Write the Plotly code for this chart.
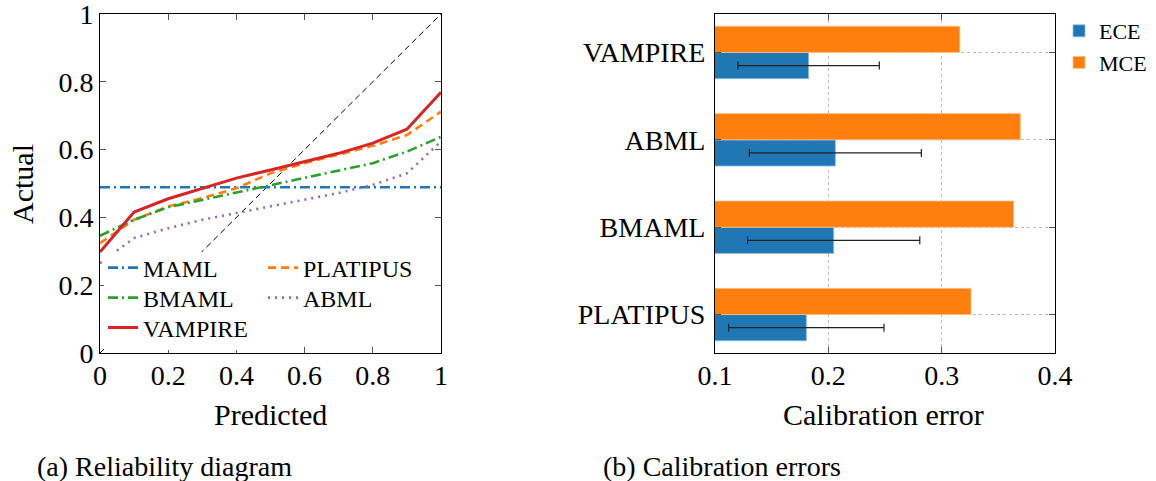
import plotly.graph_objects as go

# ---------------- data ----------------
predicted = [0.0, 0.1, 0.2, 0.3, 0.4, 0.5, 0.6, 0.7, 0.8, 0.9, 1.0]
maml = [0.489, 0.489, 0.489, 0.489, 0.489, 0.489, 0.489, 0.489, 0.489, 0.489, 0.489]
platipus = [0.324, 0.393, 0.432, 0.457, 0.486, 0.530, 0.560, 0.585, 0.611, 0.643, 0.712]
bmaml = [0.346, 0.393, 0.430, 0.452, 0.473, 0.494, 0.516, 0.538, 0.560, 0.594, 0.638]
abml = [0.265, 0.339, 0.368, 0.393, 0.413, 0.432, 0.452, 0.472, 0.496, 0.530, 0.624]
vampire = [0.298, 0.416, 0.455, 0.486, 0.516, 0.540, 0.565, 0.589, 0.619, 0.660, 0.769]
diag = [0.0, 1.0]

methods = ["PLATIPUS", "BMAML", "ABML", "VAMPIRE"]
ece = [0.1806, 0.2047, 0.2062, 0.1826]
ece_err = [0.0685, 0.0760, 0.0759, 0.0624]
mce = [0.3259, 0.3635, 0.3694, 0.3160]

x_ticks_left = [0, 0.2, 0.4, 0.6, 0.8, 1]
x_ticks_right = [0.1, 0.2, 0.3, 0.4]

FONT = "Liberation Serif"
W, H = 1156, 481

def px_x(p):
    return p / W

def px_y(p):
    return 1 - p / H

fig = go.Figure()

fig.add_trace(go.Scatter(x=diag, y=diag, mode="lines", xaxis="x", yaxis="y",
                         line=dict(color="black", width=1, dash="6px,4px"),
                         showlegend=False, hoverinfo="skip"))

fig.add_trace(go.Scatter(x=predicted, y=maml, name="MAML", mode="lines", legend="legend",
                         line=dict(color="#1f77b4", width=2.6, dash="10px,4px,2px,4px")))
fig.add_trace(go.Scatter(x=predicted, y=platipus, name="PLATIPUS", mode="lines", legend="legend",
                         line=dict(color="#ff7f0e", width=2.6, dash="8px,5px")))
fig.add_trace(go.Scatter(x=predicted, y=bmaml, name="BMAML", mode="lines", legend="legend2",
                         line=dict(color="#2ca02c", width=2.6, dash="10px,4px,2px,4px")))
fig.add_trace(go.Scatter(x=predicted, y=abml, name="ABML", mode="lines", legend="legend2",
                         line=dict(color="#9467bd", width=2.6, dash="2px,5px")))
fig.add_trace(go.Scatter(x=predicted, y=vampire, name="VAMPIRE", mode="lines", legend="legend4",
                         line=dict(color="#d62728", width=3)))

fig.add_trace(go.Bar(y=methods, x=ece, name="ECE", orientation="h", xaxis="x2", yaxis="y2",
                     legend="legend3", width=0.3, offset=-0.3,
                     marker=dict(color="#1f77b4", line=dict(color="#8fbbe0", width=0.8)),
                     error_x=dict(type="data", array=ece_err, visible=True,
                                  color="#222222", thickness=1.2, width=4)))
fig.add_trace(go.Bar(y=methods, x=mce, name="MCE", orientation="h", xaxis="x2", yaxis="y2",
                     legend="legend3", width=0.3, offset=0.0,
                     marker=dict(color="#ff7f0e", line=dict(color="#ffc08a", width=0.8))))

tickfont = dict(family=FONT, size=28, color="black")
axis_common = dict(showline=True, linecolor="black", linewidth=1, mirror="allticks",
                   ticks="inside", ticklen=6, tickcolor="#555555", tickwidth=1,
                   tickfont=tickfont, zeroline=False, automargin=False,
                   ticklabeloverflow="allow")

row_legend = dict(xanchor="left", yanchor="middle", orientation="h",
                  bgcolor="rgba(255,255,255,0)", borderwidth=0, font=dict(family=FONT, size=24),
                  itemwidth=30, entrywidth=115, entrywidthmode="pixels", tracegroupgap=0)

fig.update_layout(
    width=W, height=H,
    margin=dict(l=0, r=0, t=0, b=0, autoexpand=False),
    paper_bgcolor="white", plot_bgcolor="white",
    barmode="overlay",
    font=dict(family=FONT, color="black"),
    xaxis=dict(domain=[px_x(100), px_x(441)], range=[0, 1], tickvals=x_ticks_left,
               ticktext=["0", "0.2", "0.4", "0.6", "0.8", "1"], showgrid=False,
               anchor="y", ticklabelstandoff=-3, **axis_common),
    yaxis=dict(domain=[px_y(353), px_y(14)], range=[0, 1], tickvals=x_ticks_left,
               ticktext=["0", "0.2", "0.4", "0.6", "0.8", "1"], showgrid=False,
               anchor="x", ticklabelstandoff=0, **axis_common),
    xaxis2=dict(domain=[px_x(715), px_x(1055)], range=[0.1, 0.4], tickvals=x_ticks_right,
                ticktext=["0.1", "0.2", "0.3", "0.4"], showgrid=True,
                gridcolor="#bbbbbb", griddash="dot", gridwidth=1,
                anchor="y2", ticklabelstandoff=-3, **axis_common),
    yaxis2=dict(domain=[px_y(353), px_y(14)], type="category",
                categoryorder="array", categoryarray=methods, range=[-0.44, 3.44],
                showgrid=True, gridcolor="#bbbbbb", griddash="dot", gridwidth=1,
                anchor="x2", ticklabelstandoff=3, **axis_common),
    legend=dict(x=px_x(103), y=px_y(268), **row_legend),
    legend2=dict(x=px_x(103), y=px_y(298), **row_legend),
    legend4=dict(x=px_x(103), y=px_y(328), **row_legend),
    legend3=dict(x=px_x(1059), y=px_y(10), xanchor="left", yanchor="top",
                 bgcolor="rgba(255,255,255,0)", borderwidth=0, font=dict(family=FONT, size=22),
                 itemwidth=30, tracegroupgap=0),
)

# white legend box background (covers the reference diagonal behind the legend)
fig.add_shape(type="rect", xref="paper", yref="paper",
              x0=px_x(104), x1=px_x(258), y0=px_y(350), y1=px_y(252),
              fillcolor="white", line=dict(width=0), layer="above")

def ann(text, x, y, size, angle=0, xanchor="center"):
    fig.add_annotation(text=text, x=px_x(x), y=px_y(y), xref="paper", yref="paper",
                       showarrow=False, textangle=angle, xanchor=xanchor, yanchor="middle",
                       font=dict(family=FONT, size=size, color="black"))

ann("Predicted", 270, 414, 30)
ann("Actual", 22, 184, 30, angle=-90)
ann("Calibration error", 884, 414, 30)
ann("(a) Reliability diagram", 35, 466, 28, xanchor="left")
ann("(b) Calibration errors", 601, 466, 28, xanchor="left")

fig.write_html("out.html")
